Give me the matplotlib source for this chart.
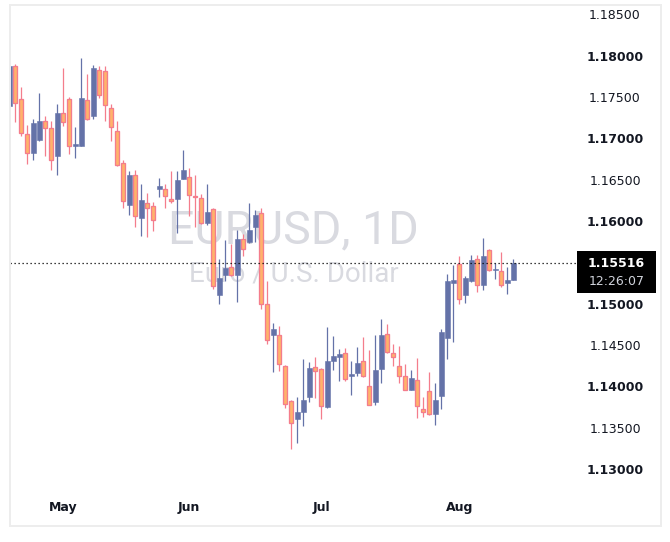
import matplotlib
matplotlib.use("Agg")
import matplotlib.pyplot as plt
from matplotlib.patches import Rectangle
import numpy as np

# ---- data: EURUSD daily candles ----
opens = [1.1741, 1.1789, 1.1749, 1.1707, 1.1684, 1.1700, 1.1723, 1.1714, 1.1680, 1.1732,
         1.1749, 1.1692, 1.1693, 1.1748, 1.1729, 1.1784, 1.1783, 1.1738, 1.1711, 1.1672,
         1.1621, 1.1657, 1.1606, 1.1624, 1.1620, 1.1640, 1.1641, 1.1629, 1.1629, 1.1653,
         1.1655, 1.1632, 1.1630, 1.1600, 1.1616, 1.1512, 1.1537, 1.1546, 1.1537, 1.1580,
         1.1576, 1.1594, 1.1611, 1.1501, 1.1464, 1.1464, 1.1427, 1.1384, 1.1362, 1.1371,
         1.1389, 1.1425, 1.1423, 1.1377, 1.1433, 1.1438, 1.1442, 1.1414, 1.1418, 1.1433,
         1.1402, 1.1383, 1.1423, 1.1465, 1.1442, 1.1427, 1.1415, 1.1398, 1.1410, 1.1375,
         1.1396, 1.1368, 1.1390, 1.1460, 1.1527, 1.1550, 1.1512, 1.1529, 1.1556, 1.1525,
         1.1567, 1.1543, 1.1541, 1.1527, 1.1531]
highs = [1.1793, 1.1792, 1.1764, 1.1718, 1.1725, 1.1757, 1.1729, 1.1723, 1.1743, 1.1787,
         1.1752, 1.1716, 1.1799, 1.1780, 1.1790, 1.1789, 1.1789, 1.1743, 1.1723, 1.1675,
         1.1662, 1.1663, 1.1647, 1.1636, 1.1625, 1.1654, 1.1647, 1.1662, 1.1662, 1.1688,
         1.1666, 1.1657, 1.1634, 1.1647, 1.1617, 1.1556, 1.1579, 1.1574, 1.1591, 1.1586,
         1.1624, 1.1615, 1.1617, 1.1529, 1.1478, 1.1475, 1.1428, 1.1385, 1.1389, 1.1435,
         1.1431, 1.1437, 1.1424, 1.1474, 1.1463, 1.1447, 1.1448, 1.1433, 1.1450, 1.1462,
         1.1446, 1.1464, 1.1483, 1.1477, 1.1453, 1.1451, 1.1429, 1.1422, 1.1436, 1.1389,
         1.1419, 1.1406, 1.1471, 1.1538, 1.1549, 1.1560, 1.1535, 1.1561, 1.1561, 1.1581,
         1.1568, 1.1551, 1.1564, 1.1546, 1.1556]
lows = [1.1738, 1.1721, 1.1705, 1.1671, 1.1675, 1.1699, 1.1680, 1.1663, 1.1657, 1.1717,
        1.1683, 1.1678, 1.1692, 1.1724, 1.1725, 1.1750, 1.1723, 1.1698, 1.1668, 1.1618,
        1.1609, 1.1594, 1.1584, 1.1582, 1.1590, 1.1631, 1.1618, 1.1624, 1.1587, 1.1653,
        1.1608, 1.1595, 1.1598, 1.1597, 1.1520, 1.1501, 1.1529, 1.1535, 1.1504, 1.1559,
        1.1575, 1.1576, 1.1496, 1.1453, 1.1419, 1.1420, 1.1376, 1.1326, 1.1334, 1.1354,
        1.1383, 1.1388, 1.1362, 1.1376, 1.1422, 1.1409, 1.1409, 1.1392, 1.1415, 1.1413,
        1.1379, 1.1379, 1.1406, 1.1442, 1.1426, 1.1406, 1.1397, 1.1398, 1.1364, 1.1365,
        1.1367, 1.1355, 1.1375, 1.1435, 1.1456, 1.1502, 1.1503, 1.1528, 1.1516, 1.1519,
        1.1542, 1.1532, 1.1522, 1.1513, 1.1530]
closes = [1.1789, 1.1745, 1.1708, 1.1684, 1.1720, 1.1723, 1.1714, 1.1676, 1.1732, 1.1722,
          1.1693, 1.1695, 1.1750, 1.1725, 1.1787, 1.1754, 1.1742, 1.1715, 1.1670, 1.1626,
          1.1657, 1.1608, 1.1627, 1.1618, 1.1603, 1.1644, 1.1632, 1.1626, 1.1651, 1.1664,
          1.1633, 1.1631, 1.1599, 1.1613, 1.1523, 1.1533, 1.1545, 1.1536, 1.1580, 1.1568,
          1.1591, 1.1609, 1.1502, 1.1458, 1.1471, 1.1429, 1.1381, 1.1358, 1.1371, 1.1385,
          1.1424, 1.1421, 1.1378, 1.1433, 1.1439, 1.1441, 1.1411, 1.1417, 1.1430, 1.1415,
          1.1380, 1.1422, 1.1464, 1.1443, 1.1438, 1.1414, 1.1398, 1.1412, 1.1378, 1.1371,
          1.1368, 1.1386, 1.1468, 1.1529, 1.1531, 1.1508, 1.1533, 1.1555, 1.1524, 1.1560,
          1.1543, 1.1544, 1.1525, 1.1531, 1.15516]

month_labels = ["May", "Jun", "Jul", "Aug"]
month_index = [9, 30, 52, 75]
# 1.15500 is hidden behind the last-price box in the reference
price_ticks = [1.130, 1.135, 1.140, 1.145, 1.150, 1.160, 1.165, 1.170, 1.175, 1.180, 1.185]
symbol = "EURUSD, 1D"
description = "Euro / U.S. Dollar"
last_time = "12:26:07"

# ---- styling ----
UP = "#6472a8"
DN_FILL = "#ffb26b"
DN_EDGE = "#f47d8c"
TXT = "#131722"

W, H = 670, 542
fig = plt.figure(figsize=(W / 100, H / 100), dpi=100)
fig.patch.set_facecolor("white")

px_l, px_r, px_t, px_b = 10, 577, 6, 490
ax = fig.add_axes([px_l / W, 1 - px_b / H, (px_r - px_l) / W, (px_b - px_t) / H])
ax.set_facecolor("white")
for s in ax.spines.values():
    s.set_visible(False)
ax.set_xticks([])
ax.set_yticks([])

ax.set_xlim(0.117, 94.62)
ax.set_ylim(1.127667, 1.186173)

o = np.array(opens); h = np.array(highs); l = np.array(lows); c = np.array(closes)
x = np.arange(len(o))
up = c >= o
mind = 0.00011
bot = np.minimum(o, c)
hgt = np.maximum(np.abs(c - o), mind)

# wicks
ax.vlines(x[up], l[up], h[up], color=UP, lw=0.9, zorder=2)
ax.vlines(x[~up], l[~up], h[~up], color=DN_EDGE, lw=0.9, zorder=2)
# bodies
ax.bar(x[up], hgt[up], bottom=bot[up], width=0.75, color=UP, edgecolor=UP, lw=0.4, zorder=3)
ax.bar(x[~up], hgt[~up], bottom=bot[~up], width=0.72, color=DN_FILL, edgecolor=DN_EDGE, lw=0.95, zorder=3)

# watermark
ax.text(0.5, 0.510, symbol, transform=ax.transAxes, ha="center", va="baseline",
        fontsize=33.5, family="Roboto", color="#d9dae0", zorder=0)
ax.text(0.5, 0.430, description, transform=ax.transAxes, ha="center", va="baseline",
        fontsize=20, family="Roboto", color="#d9dae0", zorder=0)

# last price dotted line
last = closes[-1]
ax.axhline(last, color="black", lw=0.9, ls=(0, (1, 2.2)), zorder=4)

# y labels (right)
ytr = ax.get_yaxis_transform()
lab_x = (615 - px_l) / (px_r - px_l)
for p in price_ticks:
    major = abs(round(p * 1000) % 10) == 0
    ax.text(lab_x, p, f"{p:.5f}", transform=ytr, ha="center", va="center",
            fontsize=9, family="DejaVu Sans", fontweight="bold" if major else "normal",
            color=TXT, clip_on=False)

# month labels (bottom)
xtr = ax.get_xaxis_transform()
lab_y = (px_b - 508) / (px_b - px_t)
for m, i in zip(month_labels, month_index):
    ax.text(i, lab_y, m, transform=xtr, ha="center", va="center", fontsize=9,
            family="DejaVu Sans", fontweight="bold", color=TXT, clip_on=False)

# last price box
bx0, bx1, by0, by1 = 577, 656, 251, 293
fig.add_artist(Rectangle((bx0 / W, 1 - by1 / H), (bx1 - bx0) / W, (by1 - by0) / H,
                         transform=fig.transFigure, facecolor="black", edgecolor="none", zorder=5))
fig.text(616.5 / W, 1 - 263.5 / H, f"{last:.5f}", ha="center", va="center", fontsize=9,
         family="DejaVu Sans", fontweight="bold", color="white", zorder=6)
fig.text(616.5 / W, 1 - 282 / H, last_time, ha="center", va="center", fontsize=9,
         family="DejaVu Sans", color="#d1d4dc", zorder=6)

# outer frame
fig.add_artist(Rectangle((9.5 / W, 1 - 526 / H), (661 - 9.5) / W, (526 - 5) / H,
                         transform=fig.transFigure, fill=False, edgecolor="#ededed", lw=1.4, zorder=1))

fig.savefig("out.png", dpi=100, facecolor="white")
